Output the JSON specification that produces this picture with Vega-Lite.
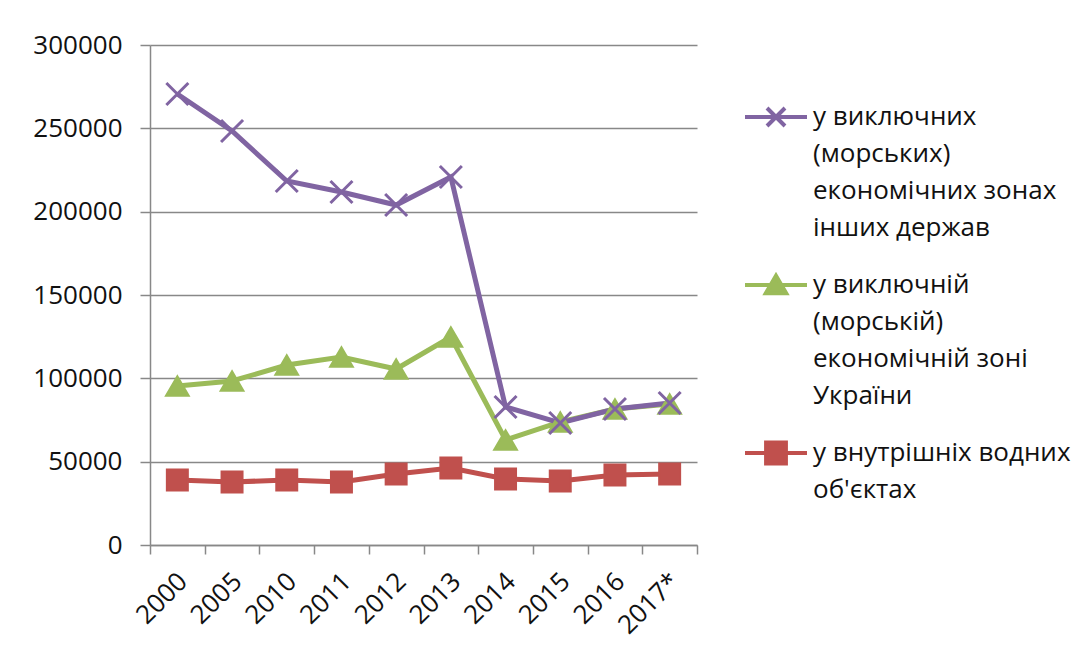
{
  "$schema": "https://vega.github.io/schema/vega-lite/v6.json",
  "autosize": {"type": "none"},
  "width": 547,
  "height": 500,
  "padding": {"left": 150, "top": 45, "right": 394, "bottom": 108},
  "background": "white",
  "config": {
    "font": "Open Sans",
    "view": {"stroke": null},
    "axis": {"labelFont": "Open Sans", "labelFontSize": 26, "labelColor": "#111", "domainColor": "#888", "tickColor": "#888", "gridColor": "#888", "domainWidth": 1.5, "tickWidth": 1.5, "gridWidth": 1.5, "title": null}
  },
  "data": {
    "values": [
      {"year": "2000", "series": "у внутрішніх водних об'єктах", "value": 39000},
      {"year": "2005", "series": "у внутрішніх водних об'єктах", "value": 37800},
      {"year": "2010", "series": "у внутрішніх водних об'єктах", "value": 39000},
      {"year": "2011", "series": "у внутрішніх водних об'єктах", "value": 37800},
      {"year": "2012", "series": "у внутрішніх водних об'єктах", "value": 42600},
      {"year": "2013", "series": "у внутрішніх водних об'єктах", "value": 46200},
      {"year": "2014", "series": "у внутрішніх водних об'єктах", "value": 39600},
      {"year": "2015", "series": "у внутрішніх водних об'єктах", "value": 38400},
      {"year": "2016", "series": "у внутрішніх водних об'єктах", "value": 42000},
      {"year": "2017*", "series": "у внутрішніх водних об'єктах", "value": 42600},
      {"year": "2000", "series": "у виключній (морській) економічній зоні України", "value": 95400},
      {"year": "2005", "series": "у виключній (морській) економічній зоні України", "value": 98400},
      {"year": "2010", "series": "у виключній (морській) економічній зоні України", "value": 108000},
      {"year": "2011", "series": "у виключній (морській) економічній зоні України", "value": 112800},
      {"year": "2012", "series": "у виключній (морській) економічній зоні України", "value": 105600},
      {"year": "2013", "series": "у виключній (морській) економічній зоні України", "value": 124800},
      {"year": "2014", "series": "у виключній (морській) економічній зоні України", "value": 63000},
      {"year": "2015", "series": "у виключній (морській) економічній зоні України", "value": 73800},
      {"year": "2016", "series": "у виключній (морській) економічній зоні України", "value": 81600},
      {"year": "2017*", "series": "у виключній (морській) економічній зоні України", "value": 84600},
      {"year": "2000", "series": "у виключних (морських) економічних зонах інших держав", "value": 270600},
      {"year": "2005", "series": "у виключних (морських) економічних зонах інших держав", "value": 248400},
      {"year": "2010", "series": "у виключних (морських) економічних зонах інших держав", "value": 218400},
      {"year": "2011", "series": "у виключних (морських) економічних зонах інших держав", "value": 211800},
      {"year": "2012", "series": "у виключних (морських) економічних зонах інших держав", "value": 204000},
      {"year": "2013", "series": "у виключних (морських) економічних зонах інших держав", "value": 220800},
      {"year": "2014", "series": "у виключних (морських) економічних зонах інших держав", "value": 82800},
      {"year": "2015", "series": "у виключних (морських) економічних зонах інших держав", "value": 73200},
      {"year": "2016", "series": "у виключних (морських) економічних зонах інших держав", "value": 81600},
      {"year": "2017*", "series": "у виключних (морських) економічних зонах інших держав", "value": 85200}
    ]
  },
  "encoding": {
    "x": {
      "field": "year", "type": "nominal", "sort": null,
      "scale": {"type": "band", "paddingInner": 0, "paddingOuter": 0},
      "axis": {"labelAngle": -45, "tickBand": "extent", "tickSize": 9, "labelPadding": 14, "labelOffset": -4, "grid": false}
    },
    "y": {
      "field": "value", "type": "quantitative",
      "scale": {"domain": [0, 300000], "nice": false},
      "axis": {"values": [0, 50000, 100000, 150000, 200000, 250000, 300000], "format": "d", "tickSize": 10, "labelPadding": 18, "grid": true}
    }
  },
  "layer": [
    {
      "mark": {"type": "line", "strokeWidth": 5},
      "encoding": {
        "color": {
          "field": "series", "type": "nominal",
          "scale": {
            "domain": ["у виключних (морських) економічних зонах інших держав", "у виключній (морській) економічній зоні України", "у внутрішніх водних об'єктах"],
            "range": ["#8064A2", "#9BBB59", "#C0504D"]
          },
          "legend": {
            "orient": "none",
            "legendX": 593,
            "legendY": 39,
            "title": null,
            "labelFont": "Open Sans",
            "labelFontSize": 26,
            "labelColor": "#111",
            "labelLimit": 400,
            "labelOffset": 4,
            "labelBaseline": "top",
            "rowPadding": 11,
            "symbolSize": 3844,
            "symbolStrokeWidth": 4,
            "labelExpr": "datum.label == 'у виключних (морських) економічних зонах інших держав' ? ['у виключних', '(морських)', 'економічних зонах', 'інших держав'] : datum.label == 'у виключній (морській) економічній зоні України' ? ['у виключній', '(морській)', 'економічній зоні', 'України'] : ['у внутрішніх водних', 'об\\'єктах']",
            "encode": {
              "labels": {"update": {"lineHeight": {"value": 37}, "dy": {"value": -13}}},
              "symbols": {"update": {
                "shape": {"signal": "datum.value == 'у виключних (морських) економічних зонах інших держав' ? 'M-1,0H1M-0.29,-0.29L0.29,0.29M-0.29,0.29L0.29,-0.29' : datum.value == 'у виключній (морській) економічній зоні України' ? 'M-1,0H1M-0.33,0.27L0,-0.3L0.33,0.27Z' : 'M-1,0H1M-0.32,-0.34H0.32V0.34H-0.32Z'"},
                "fill": {"signal": "scale('color', datum.value)"},
                "strokeWidth": {"value": 4}
              }}
            }
          }
        }
      }
    },
    {
      "transform": [{"filter": "datum.series == 'у внутрішніх водних об\\'єктах'"}],
      "mark": {"type": "point", "filled": true, "opacity": 1, "shape": "square", "size": 440, "color": "#C0504D", "strokeWidth": 2, "stroke": "#C0504D"}
    },
    {
      "transform": [{"filter": "datum.series == 'у виключній (морській) економічній зоні України'"}],
      "mark": {"type": "point", "filled": true, "opacity": 1, "shape": "triangle-up", "size": 520, "color": "#9BBB59", "strokeWidth": 2, "stroke": "#9BBB59"}
    },
    {
      "transform": [{"filter": "datum.series == 'у виключних (морських) економічних зонах інших держав'"}],
      "mark": {"type": "point", "filled": true, "opacity": 1, "shape": "M-1,-1L1,1M-1,1L1,-1", "size": 484, "color": "#8064A2", "strokeWidth": 3, "stroke": "#8064A2"}
    }
  ]
}
